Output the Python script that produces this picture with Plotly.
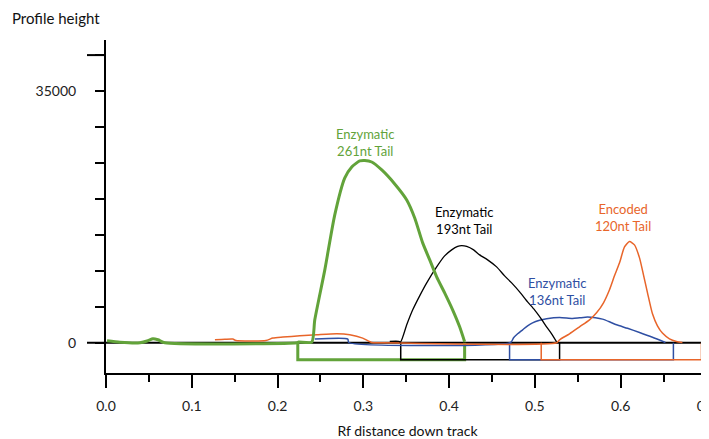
import plotly.graph_objects as go

# ---- data ----
green_x = [0.0012, 0.0163, 0.0396, 0.0489, 0.0547, 0.0606, 0.0687, 0.2224, 0.2247, 0.2399, 0.2434, 0.2551, 0.2667,
           0.2784, 0.2865, 0.2958, 0.3017, 0.3098, 0.3215, 0.3366, 0.3506, 0.3599, 0.3692, 0.3774, 0.3855,
           0.3948, 0.4041, 0.4123, 0.4181]
green_y = [278, 69, 0, 278, 556, 417, 0, 0, 100, 100, 3195, 10140, 17780,
           22920, 24450, 25280, 25350, 25140, 24030, 22085, 19860, 17360, 13890, 11530, 9170,
           6945, 4585, 2220, 139]

black_x = [0.3308, 0.3413, 0.3436, 0.3506, 0.3576, 0.3657, 0.3739, 0.3855, 0.3948, 0.4030, 0.4100, 0.4146,
           0.4205, 0.4286, 0.4356, 0.4449, 0.4554, 0.4647, 0.4729, 0.4822, 0.4915, 0.4996, 0.5066, 0.5136,
           0.5195, 0.5253]
black_y = [208, 208, 139, 2500, 4584, 6528, 8334, 10556, 12084, 12918, 13404, 13515,
           13404, 12918, 12223, 11529, 10556, 9306, 8334, 7084, 5695, 4584, 3473, 2222,
           1250, 139]

blue_x = [0.2434, 0.2819, 0.2830, 0.4717, 0.4752, 0.4799, 0.4857, 0.4915, 0.4973, 0.5055, 0.5136, 0.5288,
          0.5439, 0.5521, 0.5614, 0.5707, 0.5788, 0.5870, 0.5952, 0.6080, 0.6220, 0.6371, 0.6522]
blue_y = [514, 514, 42, 42, 695, 1250, 1806, 2361, 2778, 3125, 3334, 3514,
          3375, 3473, 3570, 3473, 3292, 2917, 2500, 2014, 1431, 764, 42]

orange_x = [0.1270, 0.1386, 0.1479, 0.1514, 0.1864, 0.1945, 0.2062, 0.2260, 0.2458, 0.2690, 0.2842, 0.2993,
            0.3098, 0.3191, 0.5253, 0.5288, 0.5404, 0.5521, 0.5637, 0.5719, 0.5800, 0.5870, 0.5928, 0.5987,
            0.6045, 0.6103, 0.6161, 0.6220, 0.6266, 0.6313, 0.6371, 0.6429, 0.6487, 0.6569, 0.6650, 0.6720]
orange_y = [417, 486, 514, 319, 319, 653, 792, 972, 1111, 1250, 1111, 653,
            42, 0, 0, 417, 1250, 2222, 3195, 4167, 5556, 7362, 9306, 11112,
            13334, 14071, 13612, 11807, 9445, 6945, 4028, 2361, 1347, 556, 181, 28]

# band boxes below the baseline: (left, right) Rf positions
band_names = ["261nt", "193nt", "136nt", "120nt"]
band_left = [0.2236, 0.3436, 0.4705, 0.5074]
band_right = [0.4181, 0.5288, 0.6615, 0.6942]
band_depth = -2360

labels = ["Enzymatic<br>261nt Tail", "Enzymatic<br>193nt Tail", "Enzymatic<br>136nt Tail", "Encoded<br>120nt Tail"]
label_x = [0.3017, 0.4170, 0.5253, 0.6033]
label_y = [27780, 16946, 7084, 17362]

GREEN = "#62a33a"
BLACK = "#000000"
BLUE = "#2f4fa3"
ORANGE = "#e8652a"
colors = [GREEN, BLACK, BLUE, ORANGE]
widths = [3, 1.5, 1.5, 1.5]

FONT = "Lato"

fig = go.Figure()

# band boxes
for i in [0, 1, 2, 3]:
    l, r = band_left[i], band_right[i]
    fig.add_trace(go.Scatter(x=[l, l, r, r], y=[0, band_depth, band_depth, 0], mode="lines",
                             line=dict(color=colors[i], width=widths[i]), hoverinfo="skip",
                             showlegend=False))

# profile curves
for xs, ys, c, w in [(blue_x, blue_y, BLUE, 1.5), (orange_x, orange_y, ORANGE, 1.5),
                     (black_x, black_y, BLACK, 1.3), (green_x, green_y, GREEN, 3)]:
    fig.add_trace(go.Scatter(x=xs, y=ys, mode="lines", line=dict(color=c, width=w, shape="spline", smoothing=0.6),
                             showlegend=False, hoverinfo="skip"))

for t, x, y, c in zip(labels, label_x, label_y, colors):
    fig.add_annotation(x=x, y=y, text=t, showarrow=False, font=dict(family=FONT, size=13, color=c),
                       xanchor="center", yanchor="middle", align="center")

# zero line (extends left like a long tick) and long tick at 40000
fig.add_shape(type="line", xref="paper", yref="y", x0=-0.0315, x1=1.0, y0=0, y1=0,
              line=dict(color="black", width=2), layer="below")
fig.add_shape(type="line", xref="paper", yref="y", x0=-0.0315, x1=0, y0=40000, y1=40000,
              line=dict(color="black", width=2), layer="below")

fig.add_annotation(xref="paper", yref="paper", x=-0.16, y=1.0, yshift=22, text="Profile height",
                   showarrow=False, xanchor="left", yanchor="middle",
                   font=dict(family=FONT, size=15, color="#111"))

fig.update_layout(
    width=701, height=431,
    margin=dict(l=98, r=0, t=32, b=66, autoexpand=False),
    paper_bgcolor="white", plot_bgcolor="white",
    font=dict(family=FONT, size=14, color="#111"),
    xaxis=dict(range=[0, 0.703], showgrid=False, zeroline=False, showline=True, linecolor="black", linewidth=2,
               ticks="outside", ticklen=13, tickwidth=2, tickcolor="black", dtick=0.1, tick0=0,
               tickformat=".1f", tickfont=dict(family=FONT, size=14, color="#222"), ticklabelstandoff=6,
               ticklabeloverflow="allow", automargin=False,
               minor=dict(dtick=0.05, ticklen=7, tickwidth=2, tickcolor="black", ticks="outside"),
               title=dict(text="Rf distance down track", font=dict(family=FONT, size=14, color="#111"), standoff=14)),
    yaxis=dict(range=[-4200, 42100], showgrid=False, zeroline=False, showline=True, linecolor="black", linewidth=2,
               ticks="outside", ticklen=9, tickwidth=2, tickcolor="black", tickmode="array",
               tickvals=[0, 35000], ticktext=["0", "35000"], ticklabelstandoff=16, automargin=False,
               tickfont=dict(family=FONT, size=14, color="#222"),
               minor=dict(dtick=5000, tick0=0, ticklen=9, tickwidth=2, tickcolor="black", ticks="outside")),
)

fig.write_html("out.html")
